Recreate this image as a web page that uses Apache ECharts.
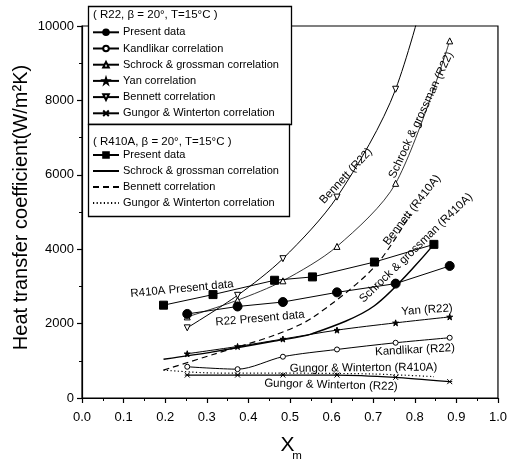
<!DOCTYPE html>
<html>
<head>
<meta charset="utf-8">
<script src="https://cdn.jsdelivr.net/npm/echarts@6/dist/echarts.min.js"></script>
<style>
html, body { margin: 0; padding: 0; background: #fff; }
#chart { width: 510px; height: 461px; }
</style>
</head>
<body>
<div id="chart"></div>
<script>
// R22, beta = 20 deg, T = 15 C
const xR22 = [0.253, 0.374, 0.483, 0.613, 0.754, 0.884];
const r22Present = [2260, 2460, 2580, 2840, 3075, 3550];
const r22Kandlikar = [840, 775, 1110, 1305, 1485, 1620];
const r22Schrock = [2180, 2630, 3150, 4075, 5770, 9600];
const r22Yan = [1190, 1385, 1585, 1825, 2020, 2180];
const r22Bennett = [1886, 2760, 3745, 5400, 8300, 13500];
const r22Gungor = [617, 617, 617, 617, 555, 440];

// R410A, beta = 20 deg, T = 15 C
const xR410A = [0.196, 0.315, 0.463, 0.554, 0.703, 0.846];
const r410aPresent = [2495, 2780, 3165, 3255, 3655, 4130];
const r410aSchrock = [1040, 1240, 1530, 1730, 2480, 4130];
const r410aGungor = [750, 672, 668, 665, 645, 575];
const xR410ABennett = [0.196, 0.315, 0.463, 0.554, 0.703, 0.790];
const r410aBennett = [750, 1170, 1690, 2160, 3520, 4950];

// axis ticks
const xTickValues = [0, 0.1, 0.2, 0.3, 0.4, 0.5, 0.6, 0.7, 0.8, 0.9, 1.0];
const yTickValues = [0, 2000, 4000, 6000, 8000, 10000];

const legendR22 = ['R22 Present data', 'R22 Kandlikar correlation', 'R22 Schrock & grossman correlation',
  'R22 Yan correlation', 'R22 Bennett correlation', 'R22 Gungor & Winterton correlation'];
const legendR410A = ['R410A Present data', 'R410A Schrock & grossman correlation',
  'R410A Bennett correlation', 'R410A Gungor & Winterton correlation'];

const FONT = 'Liberation Sans, Arial, Helvetica, sans-serif';
const INK = '#000';

const STAR = 'path://M5,0 L6.18,3.62 L10,3.62 L6.91,5.86 L8.09,9.5 L5,7.26 L1.91,9.5 L3.09,5.86 L0,3.62 L3.82,3.62 Z';
const DOWN_TRI = 'path://M0,0 L10,0 L5,8.66 Z';
const ASTERISK = 'path://M0,0 L10,10 M10,0 L0,10 M0,5 L10,5';

function pairs(xs, ys) {
  return xs.map((x, i) => [x, ys[i]]);
}

function lineSeries(name, xs, ys, opts) {
  return Object.assign({
    name: name,
    type: 'line',
    data: pairs(xs, ys),
    symbol: 'none',
    symbolSize: 5,
    smooth: 0.3,
    lineStyle: { color: INK, width: 1 },
    itemStyle: { color: INK, borderColor: INK, borderWidth: 1 },
    emphasis: { disabled: true },
    animation: false,
    z: 3
  }, opts);
}

const openMarker = { color: '#fff', borderColor: INK, borderWidth: 1 };

const series = [
  lineSeries(legendR22[0], xR22, r22Present, {
    symbol: 'circle', symbolSize: 9, smooth: false, z: 4
  }),
  lineSeries(legendR22[1], xR22, r22Kandlikar, {
    symbol: 'circle', symbolSize: 5, itemStyle: openMarker
  }),
  lineSeries(legendR22[2], xR22, r22Schrock, {
    symbol: 'triangle', symbolSize: 6, itemStyle: openMarker, lineStyle: { color: INK, width: 0.8 }
  }),
  lineSeries(legendR22[3], xR22, r22Yan, {
    symbol: STAR, symbolSize: 6
  }),
  lineSeries(legendR22[4], xR22, r22Bennett, {
    symbol: DOWN_TRI, symbolSize: 6, itemStyle: openMarker
  }),
  lineSeries(legendR22[5], xR22, r22Gungor, {
    symbol: ASTERISK, symbolSize: 5, smooth: 0.2, lineStyle: { color: INK, width: 1.2 }
  }),
  lineSeries(legendR410A[0], xR410A, r410aPresent, {
    symbol: 'rect', symbolSize: 8, smooth: false, z: 4
  }),
  lineSeries(legendR410A[1], xR410A, r410aSchrock, {
    lineStyle: { color: INK, width: 1.5 }
  }),
  lineSeries(legendR410A[2], xR410ABennett, r410aBennett, {
    lineStyle: { color: INK, width: 1.2, type: [6, 4] }
  }),
  lineSeries(legendR410A[3], xR410A, r410aGungor, {
    lineStyle: { color: INK, width: 1.2, type: [1.2, 2.4] }
  })
];

function legendBlock(names, top, gap) {
  return {
    orient: 'vertical',
    left: 92,
    top: top,
    padding: 0,
    itemWidth: 26,
    itemHeight: 7,
    itemGap: gap,
    selectedMode: false,
    z: 10,
    data: names.map(n => {
      const noMarker = n.indexOf('R410A') === 0 && n !== 'R410A Present data';
      return noMarker ? { name: n, itemStyle: { opacity: 0 } } : { name: n };
    }),
    formatter: n => n.replace(/^R22 |^R410A /, ''),
    textStyle: { fontFamily: FONT, fontSize: 11, color: INK, padding: [0, 0, 0, -1] }
  };
}

function note(text, x, y, deg) {
  return {
    type: 'text', x: x, y: y, rotation: deg * Math.PI / 180, z: 6,
    style: { text: text, align: 'center', verticalAlign: 'middle', fontFamily: FONT, fontSize: 11.5, fill: INK }
  };
}

const option = {
  backgroundColor: '#fff',
  animation: false,
  grid: {
    left: 82, right: 9, top: 26, bottom: 63,
    show: true, borderColor: INK, borderWidth: 1.2, backgroundColor: 'transparent'
  },
  xAxis: {
    type: 'value', min: xTickValues[0], max: xTickValues[xTickValues.length - 1], interval: 0.1,
    axisLine: { show: true, onZero: false, lineStyle: { color: INK, width: 1.2 } },
    axisTick: { show: true, length: 5, lineStyle: { color: INK, width: 1.2 } },
    minorTick: { show: true, splitNumber: 2, length: 3, lineStyle: { color: INK, width: 1 } },
    splitLine: { show: false },
    axisLabel: { margin: 13, color: INK, fontFamily: FONT, fontSize: 13, formatter: v => v.toFixed(1) }
  },
  yAxis: {
    type: 'value', min: yTickValues[0], max: yTickValues[yTickValues.length - 1], interval: 2000,
    axisLine: { show: true, lineStyle: { color: INK, width: 1.2 } },
    axisTick: { show: true, length: 5, lineStyle: { color: INK, width: 1.2 } },
    minorTick: { show: true, splitNumber: 2, length: 3, lineStyle: { color: INK, width: 1 } },
    splitLine: { show: false },
    axisLabel: { margin: 8, color: INK, fontFamily: FONT, fontSize: 13, formatter: v => String(v) }
  },
  legend: [legendBlock(legendR22, 26.8, 5.2), legendBlock(legendR410A, 149.5, 5)],
  graphic: [
    // legend frames
    { type: 'rect', z: 5, shape: { x: 88.5, y: 6.5, width: 203, height: 118 },
      style: { fill: '#fff', stroke: INK, lineWidth: 1.3 } },
    { type: 'rect', z: 5, shape: { x: 88.5, y: 124.5, width: 201, height: 92 },
      style: { fill: '#fff', stroke: INK, lineWidth: 1.3 } },
    { type: 'text', z: 10, x: 93, y: 15,
      style: { text: '( R22, \u03b2 = 20\u00b0, T=15\u00b0C )', align: 'left', verticalAlign: 'middle',
        fontFamily: FONT, fontSize: 11.5, fill: INK } },
    { type: 'text', z: 10, x: 93, y: 141.5,
      style: { text: '( R410A, \u03b2 = 20\u00b0, T=15\u00b0C )', align: 'left', verticalAlign: 'middle',
        fontFamily: FONT, fontSize: 11.5, fill: INK } },
    // axis titles
    { type: 'text', x: 21, y: 207.5, rotation: Math.PI / 2,
      style: { text: 'Heat transfer coefficient(W/m\u00b2K)', align: 'center', verticalAlign: 'middle',
        fontFamily: FONT, fontSize: 20, fill: INK } },
    { type: 'text', x: 287.5, y: 445.5,
      style: { text: 'X', align: 'center', verticalAlign: 'middle', fontFamily: FONT, fontSize: 21, fill: INK } },
    { type: 'text', x: 297, y: 456,
      style: { text: 'm', align: 'center', verticalAlign: 'middle', fontFamily: FONT, fontSize: 11.5, fill: INK } },
    // curve annotations
    note('R410A Present data', 182, 289, 5.5),
    note('R22 Present data', 260, 318.5, 5),
    note('Bennett (R22)', 346, 176, 47),
    note('Schrock & grossman (R22)', 421, 115, 65),
    note('Bennett (R410A)', 412, 210, 52),
    note('Schrock & grossman (R410A)', 416, 248, 44),
    note('Yan (R22)', 427, 310, 4),
    note('Kandlikar (R22)', 415, 350, 3),
    note('Gungor & Winterton (R410A)', 363.5, 368, 0.5),
    note('Gungor & Winterton (R22)', 331, 385, -1.5)
  ],
  series: series
};

const chart = echarts.init(document.getElementById('chart'), null, { renderer: 'canvas' });
chart.setOption(option);
</script>
</body>
</html>
